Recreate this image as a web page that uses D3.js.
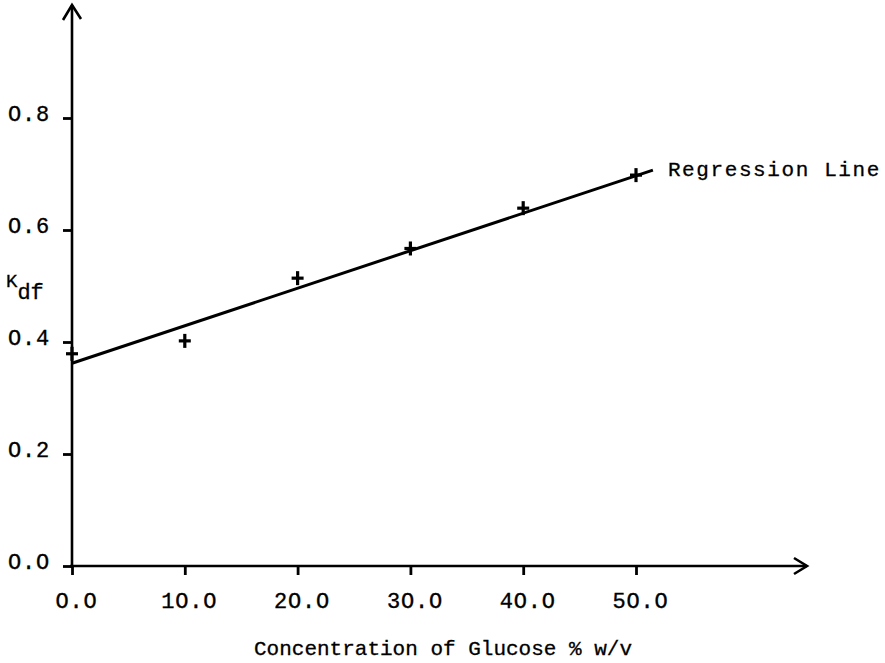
<!DOCTYPE html>
<html>
<head>
<meta charset="utf-8">
<script src="https://cdn.jsdelivr.net/npm/d3@7/dist/d3.min.js"></script>
<style>
  html, body { margin: 0; padding: 0; background: #fff; }
  svg { display: block; }
  text { font-family: "Liberation Mono", "Courier New", "DejaVu Sans Mono", monospace; fill: #000; }
</style>
</head>
<body>
<svg id="chart" width="885" height="663"></svg>
<script>
// Glucose concentration (% w/v) and measured K_df
const concentration = [0, 10, 20, 30, 40, 50];
const kdf = [0.379, 0.402, 0.514, 0.567, 0.639, 0.698];

// Fitted regression line: K_df = intercept + slope * concentration
const regIntercept = 0.362;
const regSlope = 0.0067;
const regRange = [0, 51.5];

const xTicks = [0, 10, 20, 30, 40, 50];
const yTicks = [0.0, 0.2, 0.4, 0.6, 0.8];
const fmt = v => v.toFixed(1).replace(/0/g, "O");

const svg = d3.select("#chart");
const x = d3.scaleLinear().domain([0, 50]).range([72, 636]);
const y = d3.scaleLinear().domain([0, 0.8]).range([566, 118]);
const ink = "#000";

// y axis with ticks on the left
const yAxis = svg.append("g")
  .attr("transform", `translate(${x(0)},0)`)
  .call(d3.axisLeft(y).tickValues(yTicks).tickSize(9).tickFormat(fmt));
yAxis.select(".domain").remove();
yAxis.selectAll(".tick line").attr("stroke", ink).attr("stroke-width", 2.8);
yAxis.selectAll(".tick text")
  .attr("x", -22).attr("dy", "0.1em")
  .style("font-size", "22px").style("letter-spacing", "0.8px")
  .style("stroke", ink).style("stroke-width", "0.35px");

// x axis with ticks below
const xAxis = svg.append("g")
  .attr("transform", `translate(0,${y(0)})`)
  .call(d3.axisBottom(x).tickValues(xTicks).tickSize(9).tickFormat(fmt));
xAxis.select(".domain").remove();
xAxis.selectAll(".tick line").attr("stroke", ink).attr("stroke-width", 2.8);
xAxis.selectAll(".tick text")
  .attr("y", 26).attr("dx", 4).attr("dy", "0.71em")
  .style("font-size", "22px").style("letter-spacing", "0.8px")
  .style("stroke", ink).style("stroke-width", "0.35px");

// axis lines with open arrowheads
const axisPath = d3.line();
svg.append("path")
  .attr("d", axisPath([[x(0), y(0) + 2], [x(0), 5]]))
  .attr("stroke", ink).attr("stroke-width", 2.6).attr("fill", "none");
svg.append("path")
  .attr("d", axisPath([[x(0) - 9, 20], [x(0), 5], [x(0) + 9, 19]]))
  .attr("stroke", ink).attr("stroke-width", 2.6).attr("fill", "none");
svg.append("path")
  .attr("d", axisPath([[x(0) - 2, y(0)], [807, y(0)]]))
  .attr("stroke", ink).attr("stroke-width", 2.6).attr("fill", "none");
svg.append("path")
  .attr("d", axisPath([[794, y(0) - 8], [807, y(0)], [794, y(0) + 8]]))
  .attr("stroke", ink).attr("stroke-width", 2.6).attr("fill", "none");

// regression line
svg.append("path")
  .datum(regRange)
  .attr("d", d3.line().x(d => x(d)).y(d => y(regIntercept + regSlope * d)))
  .attr("stroke", ink).attr("stroke-width", 3).attr("fill", "none");

// measured points as plus markers
const plus = svg.append("g").selectAll("g")
  .data(concentration.map((c, i) => ({ c, k: kdf[i] })))
  .join("g")
  .attr("transform", d => `translate(${x(d.c)},${y(d.k)})`);
plus.append("line").attr("x1", -6).attr("x2", 6).attr("y1", 0).attr("y2", 0)
  .attr("stroke", ink).attr("stroke-width", 3.2);
plus.append("line").attr("x1", 0).attr("x2", 0).attr("y1", -7).attr("y2", 7)
  .attr("stroke", ink).attr("stroke-width", 3.2);

// labels
const endX = regRange[1];
svg.append("text")
  .attr("x", x(endX) + 15).attr("y", y(regIntercept + regSlope * endX) + 6)
  .style("font-size", "21px").style("letter-spacing", "1.6px")
  .style("stroke", ink).style("stroke-width", "0.3px")
  .text("Regression Line");

const kLabel = svg.append("text").attr("x", 6).attr("y", 287)
  .style("stroke", ink).style("stroke-width", "0.3px");
kLabel.append("tspan").style("font-size", "19px").text("K");
kLabel.append("tspan").attr("dy", 12).style("font-size", "22px").text("df");

svg.append("text")
  .attr("x", 443).attr("y", 655).attr("text-anchor", "middle")
  .style("font-size", "21px")
  .style("stroke", ink).style("stroke-width", "0.3px")
  .text("Concentration of Glucose % w/v");
</script>
</body>
</html>
